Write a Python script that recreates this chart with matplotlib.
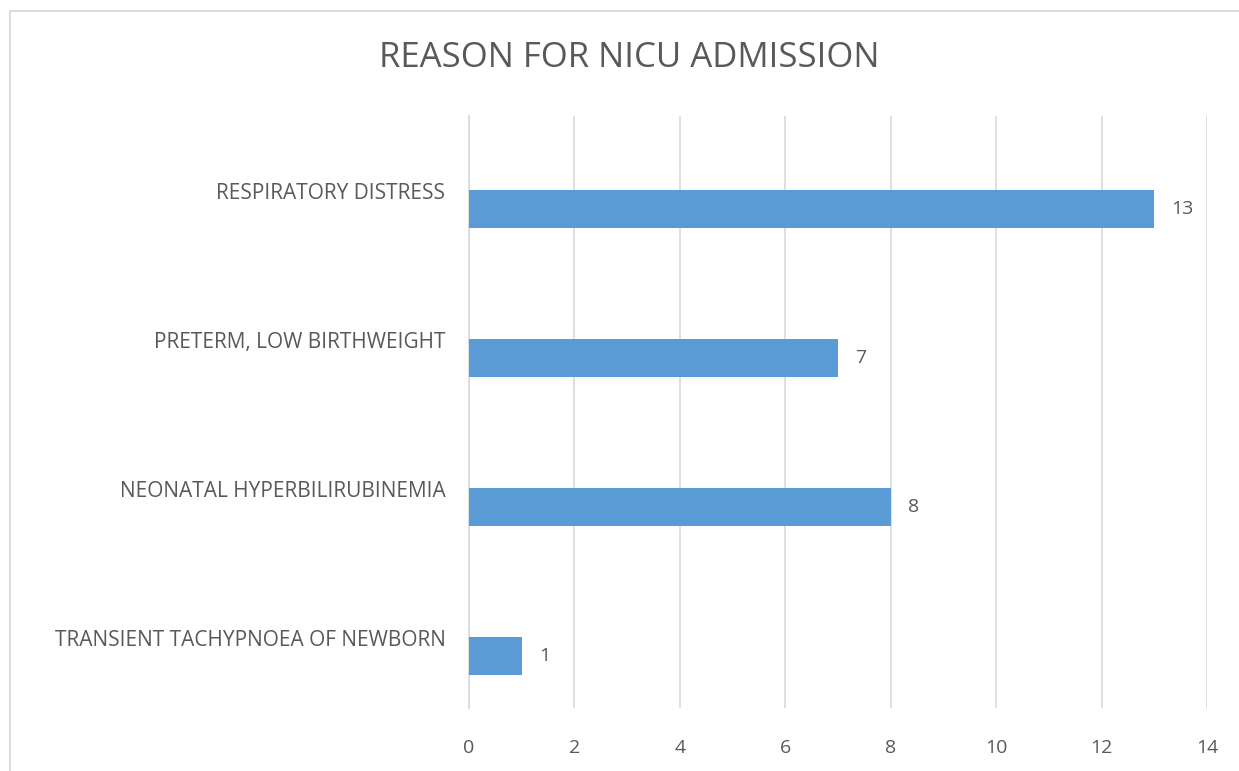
import matplotlib.pyplot as plt
import matplotlib.transforms as mtransforms
from matplotlib.lines import Line2D

# Reasons for NICU admission, bottom to top
reasons = [
    "TRANSIENT TACHYPNOEA OF NEWBORN",
    "NEONATAL HYPERBILIRUBINEMIA",
    "PRETERM, LOW BIRTHWEIGHT",
    "RESPIRATORY DISTRESS",
]
counts = [1, 8, 7, 13]
x_ticks = [0, 2, 4, 6, 8, 10, 12, 14]

bar_color = "#5B9BD5"
text_color = "#595959"
grid_color = "#D9D9D9"
font = "Open Sans"
W, H = 1239, 771

fig = plt.figure(figsize=(W / 100, H / 100), dpi=100)
fig.patch.set_facecolor("white")

# chart border (top and left edges only are inside the image)
fig.add_artist(Line2D([10 / W, 1.0], [1 - 11 / H, 1 - 11 / H],
                      transform=fig.transFigure, color=grid_color, linewidth=1.3))
fig.add_artist(Line2D([10 / W, 10 / W], [0.0, 1 - 11 / H],
                      transform=fig.transFigure, color=grid_color, linewidth=1.3))

ax = fig.add_axes([469 / W, 1 - 708 / H, 738 / W, 592 / H])
y = range(len(reasons))
bars = ax.barh(y, counts, height=0.255, color=bar_color, zorder=3)

ax.set_xlim(0, 14)
ax.set_ylim(-0.349, 3.624)
ax.set_xticks(x_ticks)
ax.set_xticklabels([str(t) for t in x_ticks], fontsize=14, color=text_color,
                   family=font)
ax.set_yticks(list(y))
ax.set_yticklabels(reasons, fontsize=15, color=text_color, family=font)

ax.tick_params(axis="both", length=0)
ax.tick_params(axis="x", pad=22)
ax.tick_params(axis="y", pad=17)

# category labels sit a little above the bar centre
offset = mtransforms.ScaledTranslation(0, 18 / 100, fig.dpi_scale_trans)
for lbl in ax.get_yticklabels():
    lbl.set_transform(lbl.get_transform() + offset)

ax.grid(axis="x", color=grid_color, linewidth=1.2, zorder=0)
for side in ["top", "right", "bottom"]:
    ax.spines[side].set_visible(False)
ax.spines["left"].set_color(grid_color)
ax.spines["left"].set_linewidth(1.2)

for rect, v in zip(bars, counts):
    ax.annotate(str(v), (v, rect.get_y() + rect.get_height() / 2),
                xytext=(17, 0), textcoords="offset pixels",
                va="center", ha="left", fontsize=14, color=text_color,
                family=font)

fig.text(629 / W, 1 - 58 / H, "REASON FOR NICU ADMISSION", ha="center",
         va="center", fontsize=25, color=text_color, family=font)

fig.savefig("out.png", dpi=100)
